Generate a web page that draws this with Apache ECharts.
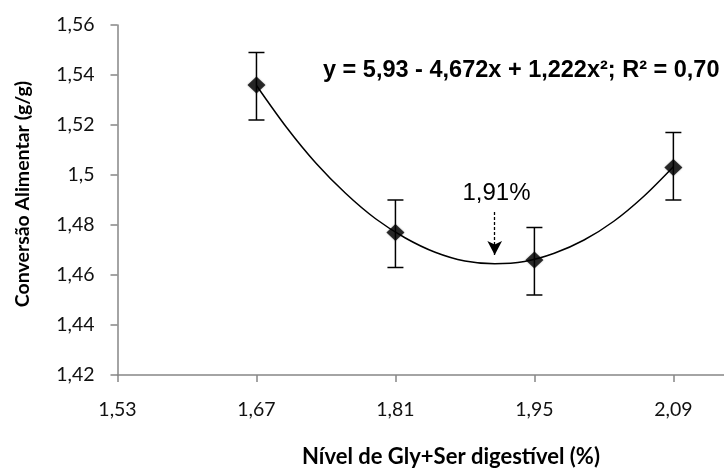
<!DOCTYPE html>
<html>
<head>
<meta charset="utf-8">
<script src="https://cdn.jsdelivr.net/npm/echarts@6/dist/echarts.min.js"></script>
<style>html,body{margin:0;padding:0;background:#fff}#c{width:724px;height:468px}</style>
</head>
<body>
<div id="c"></div>
<script>
// Data
const xTicks = [1.53, 1.67, 1.81, 1.95, 2.09];
const xVisibleMax = 2.141; // axis continues past the right edge of the picture
const yTicks = [1.42, 1.44, 1.46, 1.48, 1.50, 1.52, 1.54, 1.56];
const levels = [1.67, 1.81, 1.95, 2.09];
const means = [1.536, 1.477, 1.466, 1.503];
const errLow = [1.522, 1.463, 1.452, 1.490];
const errHigh = [1.549, 1.490, 1.479, 1.517];
const curveX = [1.67, 1.70, 1.73, 1.76, 1.79, 1.82, 1.85, 1.88, 1.91, 1.94, 1.97, 2.00, 2.03, 2.06, 2.09];
const curveY = [1.5358, 1.5192, 1.5047, 1.4926, 1.4825, 1.4748, 1.4691, 1.4656, 1.4645, 1.4654, 1.4687, 1.4740, 1.4815, 1.4914, 1.5033];
const optimumX = 1.91;
const arrowFromY = 1.4852;
const arrowToY = 1.468;
const equationText = 'y = 5,93 - 4,672x + 1,222x²; R² = 0,70';
const optimumText = '1,91%';
const xTitle = 'Nível de Gly+Ser digestível (%)';
const yTitle = 'Conversão Alimentar (g/g)';

const fmt = v => String(parseFloat(Number(v).toFixed(2))).replace('.', ',');
const axisGray = '#868686';
const labelFont = 'Lato, "Open Sans", sans-serif';
const arial = 'Arial, "Liberation Sans", sans-serif';

const chart = echarts.init(document.getElementById('c'), null, {renderer: 'canvas'});
chart.setOption({
  animation: false,
  backgroundColor: '#fff',
  grid: {left: 117.5, top: 25, right: 0, bottom: 93, containLabel: false},
  xAxis: {
    type: 'value', min: 1.53, max: xVisibleMax,
    axisLine: {show: true, lineStyle: {color: axisGray, width: 1.5}},
    axisTick: {show: true, inside: false, length: 7, lineStyle: {color: axisGray, width: 1.5}, customValues: xTicks},
    axisLabel: {customValues: xTicks, formatter: fmt, color: '#111', fontFamily: labelFont, fontSize: 19.5, margin: 25},
    splitLine: {show: false}
  },
  yAxis: {
    type: 'value', min: 1.42, max: 1.56, interval: 0.02,
    axisLine: {show: true, lineStyle: {color: axisGray, width: 1.5}},
    axisTick: {show: true, inside: false, length: 7, lineStyle: {color: axisGray, width: 1.5}, customValues: yTicks},
    axisLabel: {customValues: yTicks, formatter: fmt, color: '#111', fontFamily: labelFont, fontSize: 19.5, margin: 23},
    splitLine: {show: false}
  },
  series: [
    {
      type: 'line', smooth: 0.3, showSymbol: false, symbol: 'none',
      data: curveX.map((x, i) => [x, curveY[i]]),
      lineStyle: {color: '#000', width: 1.5},
      z: 2,
      markLine: {
        silent: true,
        symbol: ['none', 'arrow'], symbolSize: [11, 14],
        lineStyle: {color: '#000', type: [3, 2], width: 1.3},
        label: {show: false},
        data: [[{coord: [optimumX, arrowFromY]}, {coord: [optimumX, arrowToY]}]]
      }
    },
    {
      type: 'custom',
      data: levels.map((x, i) => [x, errLow[i], errHigh[i]]),
      renderItem: function (params, api) {
        const x = api.value(0);
        const lo = api.coord([x, api.value(1)]);
        const hi = api.coord([x, api.value(2)]);
        const w = 8;
        const style = {stroke: '#000', lineWidth: 1.5};
        return {
          type: 'group',
          children: [
            {type: 'line', shape: {x1: hi[0], y1: hi[1], x2: lo[0], y2: lo[1]}, style: style},
            {type: 'line', shape: {x1: hi[0] - w, y1: hi[1], x2: hi[0] + w, y2: hi[1]}, style: style},
            {type: 'line', shape: {x1: lo[0] - w, y1: lo[1], x2: lo[0] + w, y2: lo[1]}, style: style}
          ]
        };
      },
      z: 3
    },
    {
      type: 'scatter', symbol: 'diamond', symbolSize: [18, 17],
      data: levels.map((x, i) => [x, means[i]]),
      itemStyle: {color: '#000', shadowColor: 'rgba(0,0,0,0.35)', shadowBlur: 2},
      z: 4
    }
  ],
  graphic: [
    {type: 'text', x: 323, y: 71, style: {text: equationText, fontFamily: arial, fontWeight: 'bold', fontSize: 23.5, fill: '#000', verticalAlign: 'middle'}},
    {type: 'text', x: 496.5, y: 193, style: {text: optimumText, fontFamily: arial, fontSize: 24, fill: '#000', align: 'center', verticalAlign: 'middle'}},
    {type: 'text', x: 451, y: 457, style: {text: xTitle, fontFamily: labelFont, fontWeight: 'bold', fontSize: 22, fill: '#000', align: 'center', verticalAlign: 'middle'}},
    {type: 'text', x: 23, y: 194, rotation: Math.PI / 2, style: {text: yTitle, fontFamily: labelFont, fontWeight: 'bold', fontSize: 19.5, fill: '#000', align: 'center', verticalAlign: 'middle'}}
  ]
});
</script>
</body>
</html>
